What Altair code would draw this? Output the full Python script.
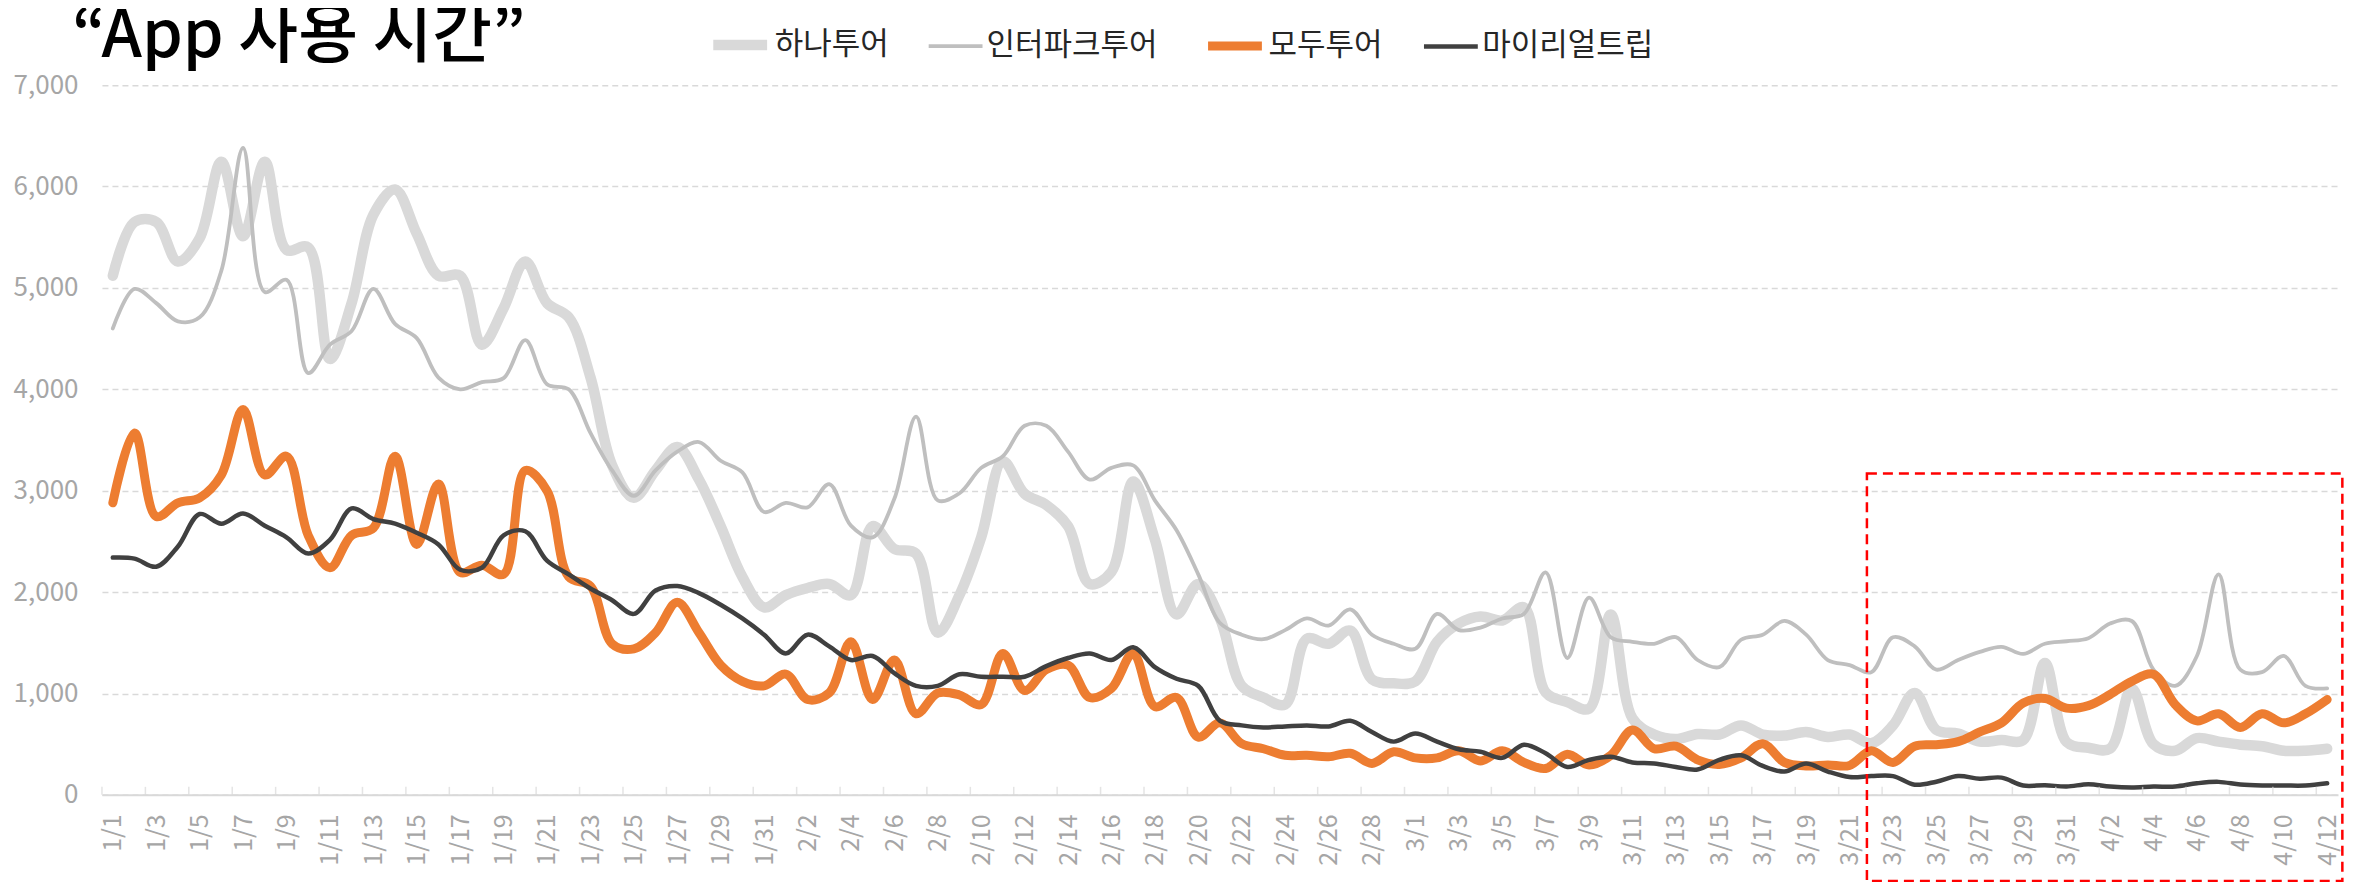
import altair as alt
import pandas as pd

# ---- categories (2020-01-01 .. 2020-04-12, daily) ----
month_lengths = [(1, 31), (2, 29), (3, 31), (4, 12)]
dates = [f"{m}/{d}" for m, n in month_lengths for d in range(1, n + 1)]

series_names = ["하나투어", "인터파크투어", "모두투어", "마이리얼트립"]

hana = [5120, 5650, 5650, 5260, 5490, 6245, 5510, 6245, 5375, 5400,
        4300, 4850, 5720, 5970, 5535, 5120, 5120, 4440, 4800, 5260,
        4850, 4710, 4120, 3250, 2930, 3200, 3430, 3110, 2650, 2150,
        1850, 1970, 2040, 2080, 1970, 2650, 2425, 2380, 1600, 1970,
        2540, 3290, 2970, 2860, 2650, 2080, 2200, 3090, 2520, 1780,
        2080, 1740, 1075, 960, 890, 1540, 1490, 1620, 1140, 1100,
        1120, 1510, 1690, 1760, 1720, 1850, 1010, 915, 850, 1780,
        755, 595, 550, 600, 595, 685, 595, 585, 620, 570,
        595, 510, 685, 1005, 640, 605, 525, 540, 540, 1300,
        520, 465, 455, 1050, 500, 435, 560, 525, 495, 480,
        435, 435, 455]

interpark = [4600, 4990, 4850, 4670, 4710, 5170, 6380, 4960, 5080, 4160,
             4440, 4575, 4990, 4645, 4505, 4115, 4000, 4070, 4110, 4485,
             4050, 4000, 3570, 3200, 2950, 3200, 3385, 3480, 3295, 3180,
             2790, 2880, 2835, 3065, 2655, 2540, 2920, 3730, 2905, 2975,
             3225, 3340, 3640, 3640, 3385, 3110, 3225, 3250, 2905, 2610,
             2175, 1695, 1580, 1535, 1625, 1740, 1670, 1830, 1580, 1490,
             1440, 1785, 1625, 1650, 1740, 1785, 2195, 1350, 1945, 1555,
             1510, 1490, 1555, 1330, 1260, 1530, 1580, 1715, 1580, 1330,
             1280, 1210, 1555, 1465, 1235, 1330, 1410, 1460, 1390, 1490,
             1515, 1545, 1690, 1715, 1235, 1075, 1370, 2175, 1235, 1210,
             1370, 1075, 1050]

modetour = [2880, 3570, 2745, 2880, 2930, 3155, 3800, 3155, 3340, 2560,
            2240, 2560, 2630, 3340, 2470, 3065, 2195, 2265, 2175, 3200,
            3000, 2150, 2060, 1490, 1440, 1600, 1900, 1600, 1280, 1120,
            1075, 1190, 940, 1005, 1510, 940, 1330, 800, 1005, 985,
            890, 1395, 1030, 1235, 1280, 960, 1050, 1395, 870, 960,
            570, 710, 505, 455, 390, 390, 375, 410, 310, 425,
            365, 365, 435, 335, 435, 320, 260, 400, 295, 390,
            640, 455, 480, 345, 300, 365, 505, 320, 285, 295,
            290, 435, 320, 480, 495, 525, 620, 710, 905, 950,
            855, 880, 990, 1120, 1190, 890, 730, 800, 665, 800,
            710, 800, 940]

myrealtrip = [2340, 2330, 2250, 2450, 2770, 2675, 2775, 2655, 2540, 2380,
              2515, 2825, 2720, 2675, 2585, 2470, 2220, 2240, 2560, 2600,
              2310, 2175, 2035, 1920, 1785, 2015, 2060, 1990, 1875, 1740,
              1580, 1395, 1580, 1465, 1330, 1370, 1200, 1075, 1075, 1190,
              1165, 1165, 1165, 1270, 1350, 1395, 1330, 1455, 1260, 1145,
              1075, 730, 685, 665, 675, 685, 675, 730, 620, 525,
              605, 525, 450, 425, 365, 495, 410, 275, 345, 375,
              320, 310, 275, 250, 345, 390, 285, 230, 310, 230,
              175, 185, 185, 100, 130, 185, 160, 170, 92, 95,
              82, 105, 82, 73, 82, 82, 114, 128, 101, 92,
              92, 92, 114]

series_values = [hana, interpark, modetour, myrealtrip]

# highlight box (in data units: day index / value)
box = {"x0": 80.8, "x1": 102.7, "y0": 3170, "y1": -850}

# ---- styles ----
colors = ["#D9D9D9", "#BFBFBF", "#ED7D31", "#404040"]
widths = [10.5, 3.8, 9, 4.5]
FONT = "Noto Sans CJK KR"
N = len(dates)

rows = []
for name, vals in zip(series_names, series_values):
    for i, v in enumerate(vals):
        rows.append({"idx": i, "date": dates[i], "series": name, "value": v})
df = pd.DataFrame(rows)

label_expr = "[" + ",".join(f"'{d}'" for d in dates) + "][datum.value]"

x_scale = alt.Scale(domain=[-0.5, N - 0.5], nice=False, zero=False)
y_scale = alt.Scale(domain=[0, 7000], nice=False, zero=True)

x_axis = alt.Axis(values=list(range(0, N, 2)), labelExpr=label_expr, labelAngle=270,
                  labelFontSize=25, labelColor="#A6A6A6", labelFont=FONT,
                  labelPadding=19, ticks=False, tickSize=0, grid=False,
                  domainColor="#D9D9D9", domainWidth=2, title=None, labelOverlap=False)
y_axis = alt.Axis(values=list(range(0, 7001, 1000)), labelExpr="format(datum.value, ',')",
                  title=None, domain=False, ticks=False, labelFontSize=26,
                  labelColor="#A6A6A6", labelFont=FONT, labelPadding=24, grid=True,
                  gridColor="#D9D9D9", gridDash=[6, 4], gridWidth=1.5)

legend = alt.Legend(orient="none", legendX=606, legendY=-73, direction="horizontal",
                    title=None, symbolType="stroke", symbolSize=2900,
                    labelFontSize=31, labelFont=FONT, labelColor="#262626", labelLimit=400,
                    columnPadding=31, labelOffset=2, padding=0, symbolOpacity=1)

color_enc = alt.Color("series:N", scale=alt.Scale(domain=series_names, range=colors),
                      legend=legend)
width_enc = alt.StrokeWidth("series:N",
                            scale=alt.Scale(type="ordinal", domain=series_names, range=widths),
                            legend=legend)

layers = []
for name in series_names:
    layers.append(
        alt.Chart(df[df.series == name]).mark_line(interpolate="catmull-rom", strokeCap="round",
                                                   strokeJoin="round").encode(
            x=alt.X("idx:Q", scale=x_scale, axis=x_axis),
            y=alt.Y("value:Q", scale=y_scale, axis=y_axis),
            color=color_enc,
            strokeWidth=width_enc,
        )
    )

tick_df = pd.DataFrame({"t": [i - 0.5 for i in range(0, N, 2)], "v": 0})
ticks = alt.Chart(tick_df).mark_tick(color="#D9D9D9", thickness=1.5, size=8, yOffset=-4).encode(
    x=alt.X("t:Q", scale=x_scale, axis=x_axis),
    y=alt.Y("v:Q", scale=y_scale, axis=y_axis),
)

box_df = pd.DataFrame([box])
box_layer = alt.Chart(box_df).mark_rect(fill="white", fillOpacity=0, stroke="#FF0000",
                                         strokeWidth=2.5, strokeDash=[10, 6]).encode(
    x=alt.X("x0:Q", scale=x_scale, axis=x_axis), x2="x1:Q",
    y=alt.Y("y0:Q", scale=y_scale, axis=y_axis), y2="y1:Q",
)

chart = alt.layer(*layers, ticks, box_layer).properties(
    width=2237, height=710,
    padding={"left": 94, "top": 77, "right": 12, "bottom": 87},
    autosize=alt.AutoSizeParams(type="none"),
    background="white",
    title=alt.TitleParams("“App 사용 시간”", anchor="start", frame="group", fontSize=65,
                          font=FONT, fontWeight=500, color="#000000", dx=-30, dy=73,
                          offset=14),
).configure_view(strokeWidth=0)

chart.save("out.html", embed_options={"renderer": "svg", "actions": False})
